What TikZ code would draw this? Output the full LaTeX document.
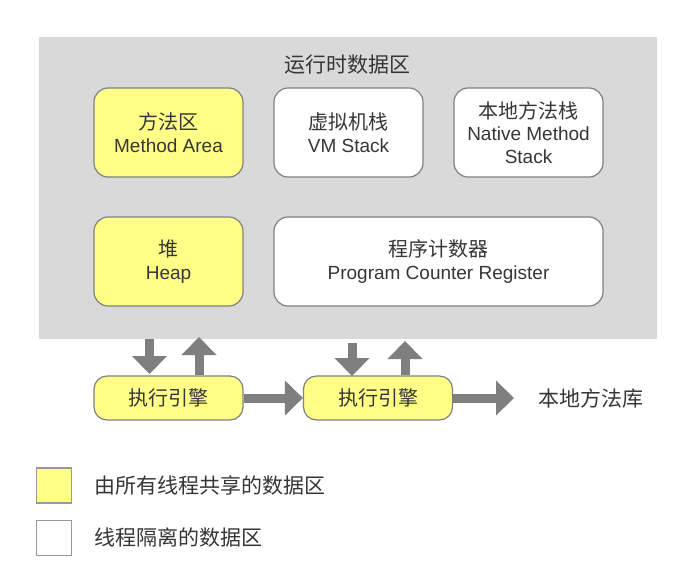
\documentclass[tikz,border=0pt]{standalone}
\usepackage{fontspec}
\setmainfont{Liberation Sans}
\newfontfamily\cjk{Noto Sans CJK SC}
\usetikzlibrary{arrows.meta}
\definecolor{bg}{HTML}{D9D9D9}
\definecolor{yel}{HTML}{FFFF88}
\definecolor{bd}{HTML}{808080}
\definecolor{lgbd}{HTML}{999999}
\definecolor{txt}{HTML}{363636}
\definecolor{arr}{HTML}{7F7F7F}
\newcommand{\zh}[2][20]{{\cjk\fontsize{#1}{22.5}\selectfont #2}}
\begin{document}
\begin{tikzpicture}[x=1pt,y=-1pt,
  box/.style={draw=bd, line width=1.2pt, rounded corners=14pt, minimum width=149pt,
    minimum height=89pt, inner sep=0pt, align=center, text=txt,
    font=\fontsize{19}{22.5}\selectfont},
  shared/.style={box, fill=yel},
  own/.style={box, fill=white},
  eng/.style={shared, minimum height=44pt, rounded corners=13pt},
  blk/.style={draw=arr, line width=9pt, -{Triangle[width=34pt,length=18pt]}},
  lbl/.style={text=txt, inner sep=0pt},
  legbox/.style={draw=lgbd, line width=1.2pt, minimum width=35pt, minimum height=35pt, inner sep=0pt}]
\useasboundingbox[fill=white] (0,0) rectangle (700,582);
\node[fill=bg, minimum width=618pt, minimum height=302pt, inner sep=0pt, anchor=north west] (rt) at (39,37) {};
\node[lbl] (title) at (347,65) {\zh[21]{运行时数据区}};
\node[shared] (ma) at (168.5,132.5) {\zh{方法区}\\Method Area};
\node[own] (vm) at (348.5,132.5) {\zh{虚拟机栈}\\VM Stack};
\node[own] (nm) at (528.5,132.5) {\zh{本地方法栈}\\Native Method\\Stack};
\node[shared] (hp) at (168.5,261.5) {\zh{堆}\\Heap};
\node[own, minimum width=329pt] (pc) at (438.5,261.5) {\zh{程序计数器}\\Program Counter Register};
\node[eng] (e1) at (168.5,398) {\zh{执行引擎}};
\node[eng] (e2) at (378,398) {\zh{执行引擎}};
\node[lbl] (lib) at (591,398) {\zh[21]{本地方法库}};
\coordinate (d1) at (149.5,374);
\coordinate (u1) at (199,337);
\coordinate (d2) at (352,376);
\coordinate (u2) at (405,341);
\coordinate (libtip) at (514,398);
\draw[blk] (rt.south -| d1) -- (d1);
\draw[blk] (e1.north -| u1) -- (u1);
\draw[blk] ([yshift=-4pt]rt.south -| d2) -- (d2);
\draw[blk] (e2.north -| u2) -- (u2);
\draw[blk] (e1.east) -- (e2.west);
\draw[blk] (e2.east) -- (libtip);
\node[legbox, fill=yel] (lg1) at (54,485.5) {};
\node[legbox, fill=white] (lg2) at (54,538) {};
\node[lbl, anchor=west] (lt1) at (94,485) {\zh[21]{由所有线程共享的数据区}};
\node[lbl, anchor=west] (lt2) at (94,537) {\zh[21]{线程隔离的数据区}};
\end{tikzpicture}
\end{document}
